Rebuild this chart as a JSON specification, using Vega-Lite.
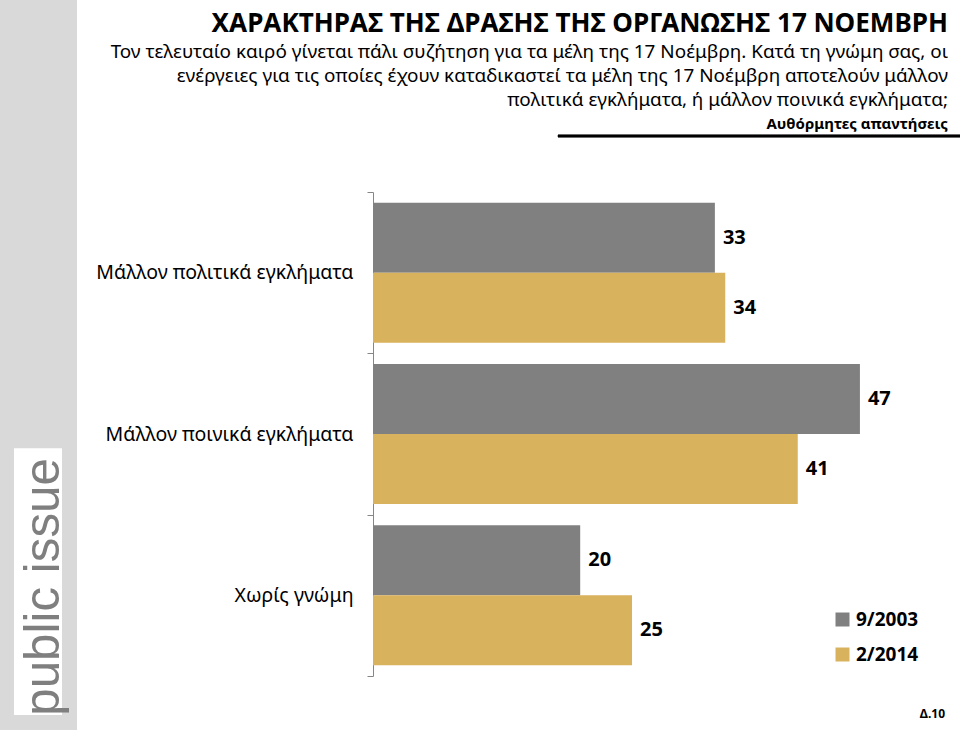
{
  "$schema": "https://vega.github.io/schema/vega-lite/v6.json",
  "background": "white",
  "padding": 0,
  "spacing": 0,
  "resolve": {"scale": {"color": "independent"}, "legend": {"color": "independent"}},
  "config": {
    "view": {"stroke": null},
    "font": "Noto Sans",
    "concat": {"spacing": 0}
  },
  "hconcat": [
    {
      "width": 77,
      "height": 730,
      "view": {"fill": "#d9d9d9", "stroke": null},
      "data": {"values": [{"brand": "public issue"}]},
      "layer": [
        {
          "mark": {"type": "rect", "fill": "white"},
          "encoding": {
            "x": {"datum": 0.182, "type": "quantitative", "scale": {"domain": [0, 1]}, "axis": null},
            "x2": {"datum": 0.805},
            "y": {"datum": 0.0205, "type": "quantitative", "scale": {"domain": [0, 1]}, "axis": null},
            "y2": {"datum": 0.386}
          }
        },
        {
          "mark": {"type": "text", "angle": 270, "align": "center", "baseline": "middle", "font": "Liberation Sans", "fontSize": 49.3, "color": "#7f7f7f"},
          "encoding": {
            "text": {"field": "brand"},
            "x": {"datum": 0.565, "type": "quantitative"},
            "y": {"datum": 0.196, "type": "quantitative"}
          }
        }
      ]
    },
    {
      "spacing": 44,
      "resolve": {"scale": {"color": "independent"}, "legend": {"color": "independent"}},
      "vconcat": [
        {
          "width": 587,
          "height": 136,
          "data": {
            "values": [
              {"kind": "title", "text": "ΧΑΡΑΚΤΗΡΑΣ ΤΗΣ ΔΡΑΣΗΣ ΤΗΣ ΟΡΓΑΝΩΣΗΣ 17 ΝΟΕΜΒΡΗ"},
              {"kind": "subtitle", "text": "Τον τελευταίο καιρό γίνεται πάλι συζήτηση για τα μέλη της 17 Νοέμβρη. Κατά τη γνώμη σας, οι\nενέργειες για τις οποίες έχουν καταδικαστεί τα μέλη της 17 Νοέμβρη αποτελούν μάλλον\nπολιτικά εγκλήματα, ή μάλλον ποινικά εγκλήματα;"},
              {"kind": "note", "text": "Αυθόρμητες απαντήσεις"}
            ]
          },
          "layer": [
            {
              "transform": [{"filter": "datum.kind === 'title'"}],
              "mark": {"type": "text", "align": "right", "baseline": "alphabetic", "dx": -12, "fontSize": 26.1, "fontWeight": "bold", "color": "black"},
              "encoding": {
                "text": {"field": "text"},
                "x": {"datum": 1, "type": "quantitative", "scale": {"domain": [0, 1]}, "axis": null},
                "y": {"datum": 0.236, "type": "quantitative", "scale": {"domain": [0, 1], "reverse": true}, "axis": null}
              }
            },
            {
              "transform": [{"filter": "datum.kind === 'subtitle'"}],
              "mark": {"type": "text", "align": "right", "baseline": "alphabetic", "dx": -12, "fontSize": 18.9, "lineHeight": 24, "lineBreak": "\n", "color": "black"},
              "encoding": {
                "text": {"field": "text"},
                "x": {"datum": 1, "type": "quantitative"},
                "y": {"datum": 0.43, "type": "quantitative"}
              }
            },
            {
              "transform": [{"filter": "datum.kind === 'note'"}],
              "mark": {"type": "text", "align": "right", "baseline": "alphabetic", "dx": -12, "fontSize": 15, "fontWeight": "bold", "color": "black"},
              "encoding": {
                "text": {"field": "text"},
                "x": {"datum": 1, "type": "quantitative"},
                "y": {"datum": 0.949, "type": "quantitative"}
              }
            },
            {
              "mark": {"type": "rule", "color": "black", "strokeWidth": 2.5},
              "encoding": {
                "x": {"datum": 0.315, "type": "quantitative"},
                "x2": {"datum": 1},
                "y": {"datum": 1, "type": "quantitative"}
              }
            }
          ]
        },
        {
          "width": 587,
          "height": 484,
          "title": {
            "text": "Δ.10",
            "orient": "bottom",
            "anchor": "end",
            "frame": "group",
            "fontSize": 12,
            "fontWeight": "bold",
            "color": "black",
            "offset": 32,
            "dx": -15
          },
          "data": {
            "values": [
              {"cat": "Μάλλον πολιτικά εγκλήματα", "period": "9/2003", "value": 33},
              {"cat": "Μάλλον πολιτικά εγκλήματα", "period": "2/2014", "value": 34},
              {"cat": "Μάλλον ποινικά εγκλήματα", "period": "9/2003", "value": 47},
              {"cat": "Μάλλον ποινικά εγκλήματα", "period": "2/2014", "value": 41},
              {"cat": "Χωρίς γνώμη", "period": "9/2003", "value": 20},
              {"cat": "Χωρίς γνώμη", "period": "2/2014", "value": 25}
            ]
          },
          "encoding": {
            "y": {
              "field": "cat",
              "type": "nominal",
              "sort": ["Μάλλον πολιτικά εγκλήματα", "Μάλλον ποινικά εγκλήματα", "Χωρίς γνώμη"],
              "scale": {"paddingInner": 0, "paddingOuter": 0},
              "axis": {
                "title": null,
                "labelFontSize": 19.5,
                "labelColor": "black",
                "labelLimit": 0,
                "labelPadding": 14,
                "tickBand": "extent",
                "tickSize": 6,
                "tickColor": "#868686",
                "domainColor": "#868686",
                "minExtent": 296,
                "maxExtent": 296
              }
            },
            "yOffset": {
              "field": "period",
              "sort": ["9/2003", "2/2014"],
              "scale": {"paddingInner": 0, "paddingOuter": 0.152}
            },
            "x": {
              "field": "value",
              "type": "quantitative",
              "scale": {"domain": [0, 56.66], "nice": false},
              "axis": null
            }
          },
          "layer": [
            {
              "mark": {"type": "bar"},
              "encoding": {
                "color": {
                  "field": "period",
                  "type": "nominal",
                  "sort": ["9/2003", "2/2014"],
                  "scale": {"domain": ["9/2003", "2/2014"], "range": ["#808080", "#D9B25E"]},
                  "legend": {
                    "title": null,
                    "orient": "none",
                    "legendX": 460,
                    "legendY": 418,
                    "symbolType": "square",
                    "symbolSize": 196,
                    "symbolStrokeWidth": 0,
                    "labelFontSize": 19,
                    "labelFontWeight": "bold",
                    "labelColor": "black",
                    "labelOffset": 4,
                    "rowPadding": 15
                  }
                }
              }
            },
            {
              "mark": {"type": "text", "align": "left", "baseline": "middle", "dx": 8, "fontSize": 20, "fontWeight": "bold", "color": "black"},
              "encoding": {
                "text": {"field": "value", "type": "quantitative"}
              }
            }
          ]
        }
      ]
    }
  ]
}
